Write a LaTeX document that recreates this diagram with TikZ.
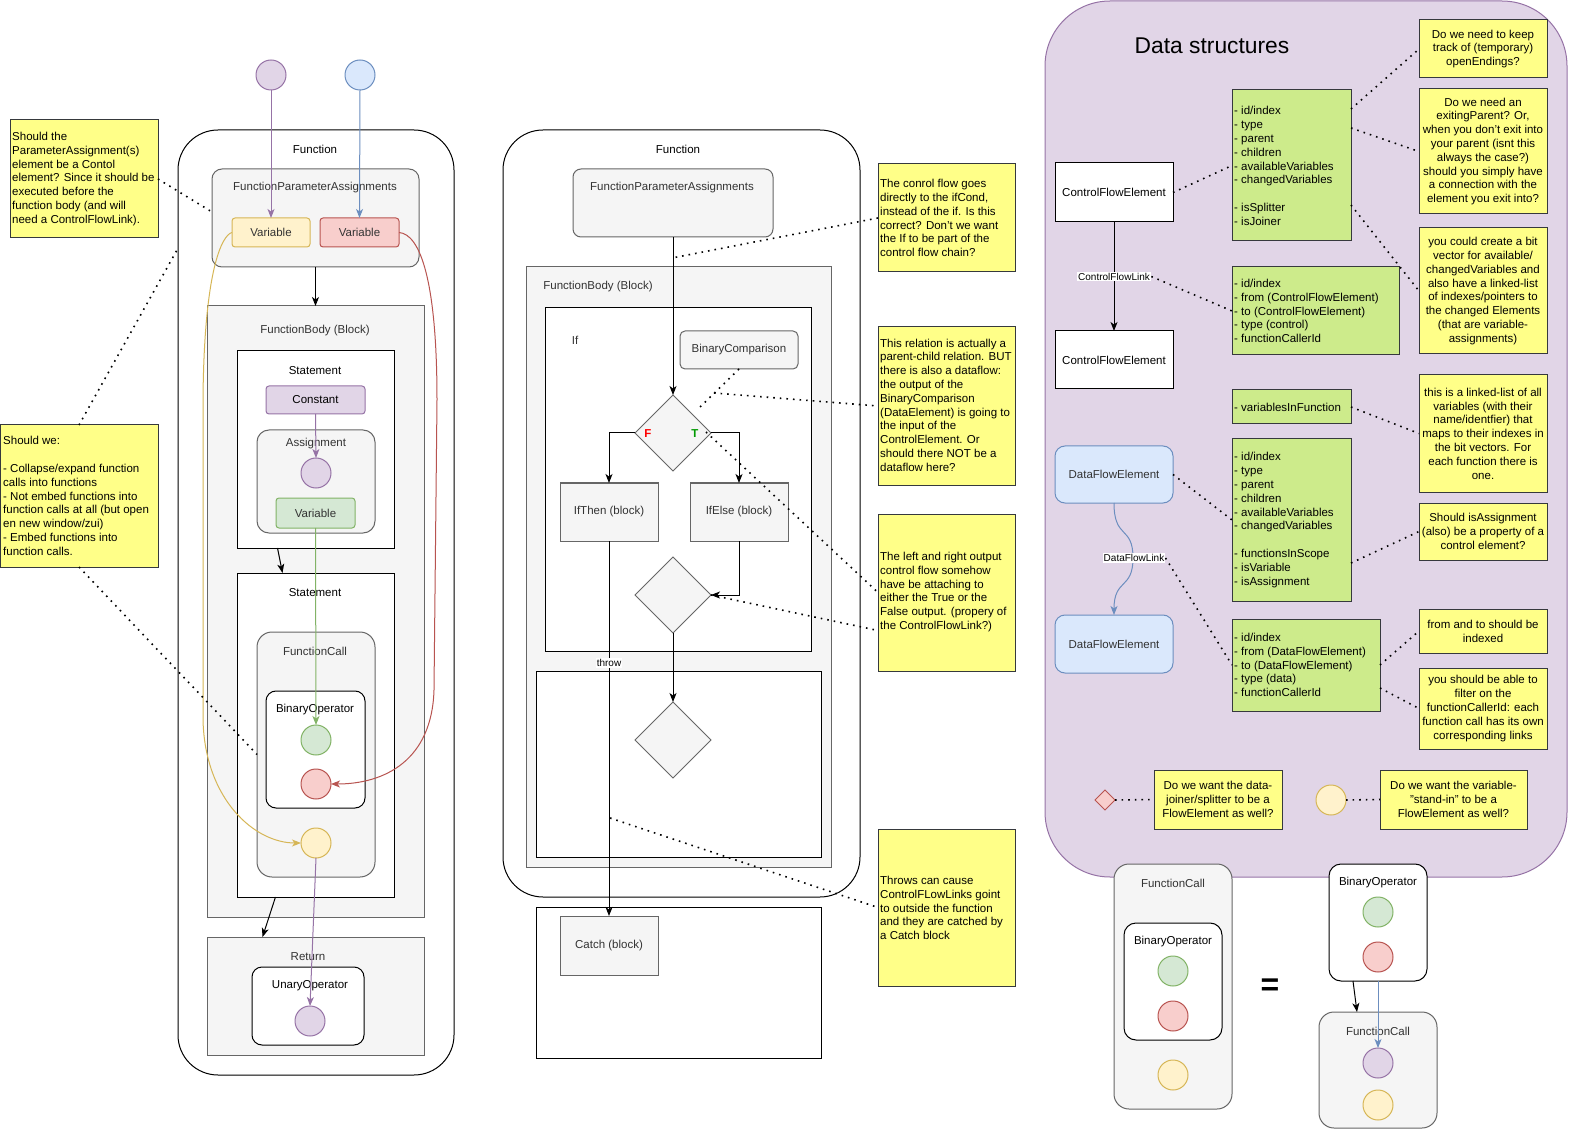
\documentclass[tikz,border=0pt]{standalone}
\usepackage{fontspec}
\setmainfont{Liberation Sans}
\usetikzlibrary{arrows.meta,shapes.geometric}
\definecolor{grayF}{HTML}{F5F5F5}\definecolor{grayS}{HTML}{666666}
\definecolor{txtG}{HTML}{333333}
\definecolor{purF}{HTML}{E1D5E7}\definecolor{purS}{HTML}{9673A6}
\definecolor{bluF}{HTML}{DAE8FC}\definecolor{bluS}{HTML}{6C8EBF}
\definecolor{yelF}{HTML}{FFF2CC}\definecolor{yelS}{HTML}{D6B656}
\definecolor{redF}{HTML}{F8CECC}\definecolor{redS}{HTML}{B85450}
\definecolor{grnF}{HTML}{D5E8D4}\definecolor{grnS}{HTML}{82B366}
\definecolor{noteF}{HTML}{FFFF88}\definecolor{noteS}{HTML}{36393D}
\definecolor{limeF}{HTML}{CDEB8B}
\definecolor{fRed}{HTML}{FF0000}\definecolor{tGreen}{HTML}{009900}
\newcommand{\fs}{\fontsize{11.5}{13.8}\selectfont}
\newcommand{\bx}[7][]{%
  \node[base,#1,minimum width={#5pt-#3pt},minimum height={#6pt-#4pt}] (#2) at ({(#3+#5)/2},{(#4+#6)/2}) {#7};}
\tikzset{
  base/.style={draw, line width=1pt, inner sep=0pt, outer sep=0pt, font=\fs},
  wbox/.style={draw=black, fill=white, text=black},
  gbox/.style={draw=grayS, fill=grayF, text=txtG},
  yelbox/.style={draw=yelS, fill=yelF, text=txtG, rounded corners=3pt},
  redbox/.style={draw=redS, fill=redF, text=txtG, rounded corners=3pt},
  grnbox/.style={draw=grnS, fill=grnF, text=txtG, rounded corners=3pt},
  purbox/.style={draw=purS, fill=purF, text=black},
  blubox/.style={draw=bluS, fill=bluF, text=txtG},
  notebox/.style={draw=noteS, fill=noteF, align=center, text=black},
  limebox/.style={draw=noteS, fill=limeF},
  circ/.style={circle, draw, line width=1pt, minimum size=30pt, inner sep=0pt, outer sep=0pt},
  dia/.style={diamond, draw=grayS, fill=grayF, line width=1pt, minimum width=76pt, minimum height=76pt, inner sep=0pt, outer sep=0pt},
  lab/.style={inner sep=0pt, font=\fs, text=black},
  labg/.style={inner sep=0pt, font=\fs, text=txtG},
  ltxt/.style={inner sep=0pt, font=\fs, align=left, anchor=west, text=black},
  arr/.style={line width=1pt, -{Stealth[length=9pt,width=7pt,inset=2.5pt]}},
  dotl/.style={line width=1.6pt, dash pattern=on 1.6pt off 5pt},
  smalllbl/.style={inner sep=1pt, font=\fontsize{10}{12}\selectfont, fill=white, text=black},
}
\begin{document}
\begin{tikzpicture}[x=1pt,y=-1pt]
\useasboundingbox (0,0) rectangle (1591,1147);

% ================= LEFT FUNCTION =================
\bx[wbox, rounded corners=40pt]{lfunc}{178}{130}{454}{1075}{}
\node[lab] (lfuncl) at (315,149) {Function};
\bx[gbox, rounded corners=10pt]{lfpa}{212}{169}{419}{267}{}
\node[labg] (lfpal) at (315,188) {FunctionParameterAssignments};
\bx[yelbox]{lvy}{232}{218}{310}{247}{Variable}
\bx[redbox]{lvr}{320}{218}{399}{247}{Variable}
\bx[gbox]{lfb}{207}{306}{424}{917}{}
\node[labg] (lfbl) at (315,331) {FunctionBody (Block)};
\bx[wbox]{ls1}{237}{351}{394}{548}{}
\node[lab] (ls1l) at (315,371) {Statement};
\bx[purbox, rounded corners=3pt]{lconst}{266}{386}{365}{414}{Constant}
\bx[gbox, rounded corners=12pt]{lasg}{257}{430}{375}{533}{}
\node[labg] (lasgl) at (316,444) {Assignment};
\node[circ, draw=purS, fill=purF] (lac) at (316,473) {};
\bx[grnbox]{lvg}{276}{498}{355}{528}{Variable}
\bx[wbox]{ls2}{237}{573}{394}{897}{}
\node[lab] (ls2l) at (315,593) {Statement};
\bx[gbox, rounded corners=15pt]{lfc}{257}{632}{375}{877}{}
\node[labg] (lfcl) at (315,651) {FunctionCall};
\bx[wbox, rounded corners=10pt]{lbo}{266}{691}{365}{808}{}
\node[lab] (lbol) at (315,710) {BinaryOperator};
\node[circ, draw=grnS, fill=grnF] (lgc) at (316,740) {};
\node[circ, draw=redS, fill=redF] (lrc) at (316,784) {};
\node[circ, draw=yelS, fill=yelF] (lyc) at (316,843) {};
\bx[gbox]{lret}{207}{937}{424}{1055}{}
\node[labg] (lretl) at (308,957) {Return};
\bx[wbox, rounded corners=10pt]{luo}{252}{967}{364}{1045}{}
\node[lab] (luol) at (310,986) {UnaryOperator};
\node[circ, draw=purS, fill=purF] (luc) at (310,1021) {};

\node[circ, draw=purS, fill=purF] (pc1) at (271,75) {};
\node[circ, draw=bluS, fill=bluF] (bc1) at (360,75) {};

\draw[arr, purS] (pc1.south) -- (lvy.north);
\draw[arr, bluS] (bc1.south) -- (lvr.north);
\draw[arr] (lfpa.south) -- (lfb.north);
\draw[arr, purS] (lconst.south) -- (lac.north);
\draw[arr, grnS] (lvg.south) -- (lgc.north);
\draw[arr] ([xshift=-38pt]ls1.south) -- ([xshift=-33pt]ls2.north);
\draw[arr] ([xshift=-40pt]ls2.south) -- ([xshift=-53pt]lret.north);
\draw[arr, purS] (lyc.south) -- (luc.north);
\draw[arr, redS] (lvr.east) .. controls (420,234) and (437,280) .. (437,400) -- (434,690) .. controls (432,760) and (385,784) .. (lrc.east);
\draw[arr, yelS] (lvy.west) .. controls (222,235) and (204,270) .. (203,400) -- (203,720) .. controls (205,800) and (255,843) .. (lyc.west);

% left notes
\bx[notebox]{ln1}{10}{120}{158}{238}{}
\node[ltxt] (ln1t) at (12,179) {Should the\\ParameterAssignment(s)\\element be a Contol\\element? Since it should be\\executed before the\\function body (and will\\need a ControlFlowLink).};
\bx[notebox]{ln2}{0}{425}{158}{567}{}
\node[ltxt] (ln2t) at (3,496) {Should we:\\[13.8pt]- Collapse/expand function\\calls into functions\\- Not embed functions into\\function calls at all (but open\\en new window/zui)\\- Embed functions into\\function calls.};
\coordinate (lfl) at (177,250);
\draw[dotl] (ln1.east) -- ([yshift=6pt]lfpa.west);
\draw[dotl] (ln2.north) -- (lfl);
\draw[dotl] (ln2.south) -- (lfc.west);

% ================= MIDDLE FUNCTION =================
\bx[wbox, rounded corners=40pt]{mfunc}{503}{130}{860}{897}{}
\node[lab] (mfuncl) at (678,149) {Function};
\bx[gbox, rounded corners=8pt]{mfpa}{573}{169}{773}{237}{}
\node[labg] (mfpal) at (672,188) {FunctionParameterAssignments};
\bx[gbox]{mfb}{526}{267}{831}{867}{}
\node[labg] (mfbl) at (598,287) {FunctionBody (Block)};
\bx[wbox]{mif}{545}{308}{811}{651}{}
\node[labg] (mifl) at (575,340) {If};
\bx[gbox, rounded corners=5pt]{mbc}{680}{331}{798}{369}{BinaryComparison}
\node[dia] (d1) at (673,433) {};
\node[inner sep=0pt, font=\fs\bfseries, text=fRed] (fl) at (648,434) {F};
\node[inner sep=0pt, font=\fs\bfseries, text=tGreen] (tl) at (695,434) {T};
\bx[gbox]{mthen}{560}{483}{658}{541}{IfThen (block)}
\bx[gbox]{melse}{690}{483}{788}{541}{IfElse (block)}
\node[dia] (d2) at (673,595) {};
\bx[wbox]{mlow}{536}{671}{821}{857}{}
\node[dia] (d3) at (673,740) {};
\bx[wbox]{mcb}{536}{907}{821}{1058}{}
\bx[gbox]{mcatch}{560}{916}{658}{975}{Catch (block)}

\draw[arr] (mfpa.south) -- (d1.north);
\draw[arr] (d1.west) -| (mthen.north);
\draw[arr] (d1.east) -| (melse.north);
\draw[arr] (melse.south) |- (d2.east);
\draw[arr] (d2.south) -- (d3.north);
\draw[arr] (mthen.south) -- node[smalllbl, pos=0.325] (thr) {throw} (mcatch.north);

% middle notes
\bx[notebox]{mn1}{878}{164}{1015}{272}{}
\node[ltxt] (mn1t) at (880,218) {The conrol flow goes\\directly to the ifCond,\\instead of the if. Is this\\correct? Don't we want\\the If to be part of the\\control flow chain?};
\bx[notebox]{mn2}{878}{327}{1015}{485}{}
\node[ltxt] (mn2t) at (880,405) {This relation is actually a\\parent-child relation. BUT\\there is also a dataflow:\\the output of the\\BinaryComparison\\(DataElement) is going to\\the input of the\\ControlElement. Or\\should there NOT be a\\dataflow here?};
\bx[notebox]{mn3}{878}{514}{1015}{671}{}
\node[ltxt] (mn3t) at (880,592) {The left and right output\\control flow somehow\\have be attaching to\\either the True or the\\False output. (propery of\\the ControlFlowLink?)};
\bx[notebox]{mn4}{878}{829}{1015}{986}{}
\node[ltxt] (mn4t) at (880,908) {Throws can cause\\ControlFLowLinks goint\\to outside the function\\and they are catched by\\a Catch block};

\coordinate (mc1) at (672,258);
\coordinate (mc2) at (697,410);
\coordinate (mc3) at (714,393);
\coordinate (mc4) at (706,432);
\coordinate (mc5) at (610,818);
\draw[dotl] (mn1.west) -- (mc1);
\draw[dotl] (mbc.south) -- (mc2);
\draw[dotl] (mc3) -- (mn2.west);
\draw[dotl] (mc4) -- (mn3.west);
\draw[dotl] (d2.east) -- ([yshift=-38pt]mn3.west);
\draw[dotl] (mc5) -- (mn4.west);

% ================= DATA STRUCTURES =================
\bx[purbox, rounded corners=65pt]{ds}{1045}{1}{1567}{877}{}
\node[inner sep=0pt, font=\fontsize{22.8}{26}\selectfont, text=black] (dst) at (1212,46) {Data structures};

\bx[wbox]{cfe1}{1055}{163}{1173}{222}{ControlFlowElement}
\bx[wbox]{cfe2}{1055}{331}{1173}{389}{ControlFlowElement}
\draw[arr] (cfe1.south) -- node[smalllbl] (cfl) {ControlFlowLink} (cfe2.north);

\bx[blubox, rounded corners=10pt]{dfe1}{1055}{446}{1173}{503}{DataFlowElement}
\bx[blubox, rounded corners=10pt]{dfe2}{1055}{615}{1173}{673}{DataFlowElement}
\draw[arr, bluS] (dfe1.south) .. controls (1114,540) and (1133,525) .. (1133,558) .. controls (1133,590) and (1114,578) .. (dfe2.north);
\node[smalllbl] (dfl) at (1134,558) {DataFlowLink};

\bx[limebox]{g1}{1232}{90}{1351}{241}{}
\node[ltxt] (g1t) at (1234,166) {- id/index\\- type\\- parent\\- children\\- availableVariables\\- changedVariables\\[13.8pt]- isSplitter\\- isJoiner};
\bx[limebox]{g2}{1232}{267}{1399}{355}{}
\node[ltxt] (g2t) at (1234,311) {- id/index\\- from (ControlFlowElement)\\- to (ControlFlowElement)\\- type (control)\\- functionCallerId};
\bx[limebox]{g3}{1232}{390}{1351}{424}{}
\node[ltxt] (g3t) at (1234,407) {- variablesInFunction};
\bx[limebox]{g4}{1232}{439}{1351}{601}{}
\node[ltxt] (g4t) at (1234,520) {- id/index\\- type\\- parent\\- children\\- availableVariables\\- changedVariables\\[13.8pt]- functionsInScope\\- isVariable\\- isAssignment};
\bx[limebox]{g5}{1232}{619}{1380}{711}{}
\node[ltxt] (g5t) at (1234,665) {- id/index\\- from (DataFlowElement)\\- to (DataFlowElement)\\- type (data)\\- functionCallerId};

\bx[notebox]{n1}{1419}{20}{1547}{78}{Do we need to keep\\track of (temporary)\\openEndings?}
\bx[notebox]{n2}{1419}{89}{1547}{214}{Do we need an\\exitingParent? Or,\\when you don't exit into\\your parent (isnt this\\always the case?)\\should you simply have\\a connection with the\\element you exit into?}
\bx[notebox]{n3}{1419}{228}{1547}{354}{you could create a bit\\vector for available/\\changedVariables and\\also have a linked-list\\of indexes/pointers to\\the changed Elements\\(that are variable-\\assignments)}
\bx[notebox]{n4}{1419}{375}{1547}{492}{this is a linked-list of all\\variables (with their\\name/identfier) that\\maps to their indexes in\\the bit vectors. For\\each function there is\\one.}
\bx[notebox]{n5}{1419}{503}{1547}{560}{Should isAssignment\\(also) be a property of a\\control element?}
\bx[notebox]{n6}{1419}{609}{1547}{653}{from and to should be\\indexed}
\bx[notebox]{n7}{1419}{668}{1547}{749}{you should be able to\\filter on the\\functionCallerId: each\\function call has its own\\corresponding links}

\node[diamond, draw=redS, fill=redF, line width=1pt, minimum width=20pt, minimum height=20pt, inner sep=0pt, outer sep=0pt] (rdia) at (1105,800) {};
\bx[notebox]{b1}{1154}{770}{1282}{829}{Do we want the data-\\joiner/splitter to be a\\FlowElement as well?}
\node[circ, draw=yelS, fill=yelF] (ycs) at (1331,800) {};
\bx[notebox]{b2}{1380}{770}{1527}{829}{Do we want the variable-\\"stand-in" to be a\\FlowElement as well?}

\draw[dotl] (cfe1.east) -- (g1.west);
\draw[dotl] ([yshift=-19pt]g1.north east) -- (n1.west);
\draw[dotl] ([yshift=-38pt]g1.north east) -- (n2.west);
\draw[dotl] ([yshift=36pt]g1.south east) -- (n3.west);
\draw[dotl] (cfl.east) -- (g2.west);
\draw[dotl] (g3.east) -- (n4.west);
\draw[dotl] (dfe1.east) -- (g4.west);
\draw[dotl] ([yshift=38pt]g4.south east) -- (n5.west);
\draw[dotl] (dfl.east) -- (g5.west);
\draw[dotl] (g5.east) -- (n6.west);
\draw[dotl] ([yshift=-23pt]g5.east) -- (n7.west);
\draw[dotl] (rdia.east) -- (b1.west);
\draw[dotl] (ycs.east) -- (b2.west);

% ================= BOTTOM RIGHT =================
\bx[gbox, rounded corners=15pt]{bfc}{1114}{864}{1232}{1109}{}
\node[labg] (bfcl) at (1173,883) {FunctionCall};
\bx[wbox, rounded corners=12pt]{bbo}{1124}{923}{1222}{1040}{}
\node[lab] (bbol) at (1173,942) {BinaryOperator};
\node[circ, draw=grnS, fill=grnF] (bgc) at (1173,971) {};
\node[circ, draw=redS, fill=redF] (brc) at (1173,1016) {};
\node[circ, draw=yelS, fill=yelF] (byc) at (1173,1075) {};
\node[inner sep=0pt, font=\fontsize{32}{32}\selectfont\bfseries] (eq) at (1270,987) {=};
\bx[wbox, rounded corners=12pt]{bbo2}{1329}{864}{1427}{981}{}
\node[lab] (bbo2l) at (1378,883) {BinaryOperator};
\node[circ, draw=grnS, fill=grnF] (bgc2) at (1378,912) {};
\node[circ, draw=redS, fill=redF] (brc2) at (1378,957) {};
\bx[gbox, rounded corners=15pt]{bfc2}{1319}{1012}{1437}{1128}{}
\node[labg] (bfc2l) at (1378,1031) {FunctionCall};
\node[circ, draw=purS, fill=purF] (bpc2) at (1378,1063) {};
\node[circ, draw=yelS, fill=yelF] (byc2) at (1378,1105) {};
\draw[arr, bluS] (bbo2.south) -- (bpc2.north);
\draw[arr] ([xshift=-25pt]bbo2.south) -- ([xshift=-21pt]bfc2.north);

\end{tikzpicture}
\end{document}
